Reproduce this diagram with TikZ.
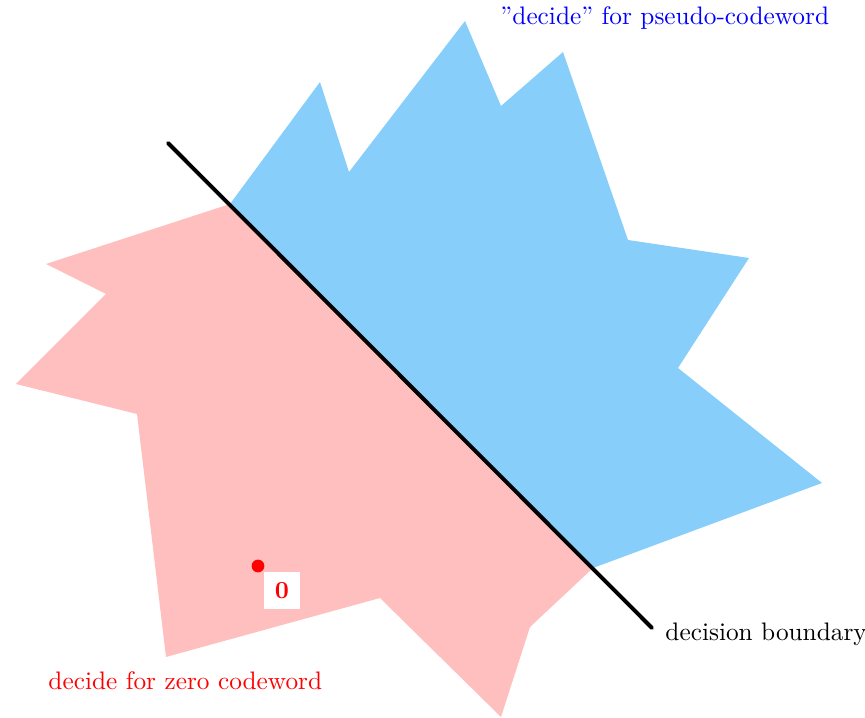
\documentclass[tikz,border=0pt]{standalone}
\definecolor{skyregion}{RGB}{135,206,250}
\begin{document}
\begin{tikzpicture}[x=0.407pt, y=-0.407pt,
    every node/.style={font=\fontsize{10.3pt}{12pt}\selectfont},
    zeroregion/.style={fill=red!25, draw=none},
    pseudoregion/.style={fill=skyregion, draw=none},
    boundary/.style={line width=1.6pt, line cap=round},
    label/.style={inner sep=0pt, anchor=base west}]
  \useasboundingbox (0,0) rectangle (865,718);
  % ends of the decision boundary, and the corners of the two regions that lie on it
  \coordinate (b1) at (168,143);
  \coordinate (b2) at (652,628);
  \coordinate (top) at (230,204);
  \coordinate (bot) at (593,568);

  % region decided for the zero codeword
  \fill[zeroregion] (top) -- (46,264) -- (106,294) -- (16,384) -- (137,414) -- (166,657)
                    -- (380,598) -- (501,717) -- (530,627) -- (bot) -- cycle;
  % region decided for the pseudo-codeword
  \fill[pseudoregion] (top) -- (320,82) -- (349,172) -- (465,21) -- (501,106) -- (563,52)
                      -- (628,240) -- (749,258) -- (678,368) -- (822,483) -- (bot) -- cycle;

  \draw[boundary] (b1) -- (b2);

  % the zero codeword
  \node[circle, fill=red, inner sep=0pt, minimum size=5.2pt] (zero) at (258,566) {};
  \node[fill=white, text=red, inner sep=3pt, minimum width=36*0.407pt, minimum height=37*0.407pt]
       (zerolabel) at (282,591) {$\mathbf{0}$};

  % texts
  \node[label] (boundarytext) at (665,641) {decision boundary};
  \node[label, text=red] (zerotext) at (48,690) {decide for zero codeword};
  \node[label, text=blue] (pseudotext) at (500,25) {''decide'' for pseudo-codeword};
\end{tikzpicture}
\end{document}
